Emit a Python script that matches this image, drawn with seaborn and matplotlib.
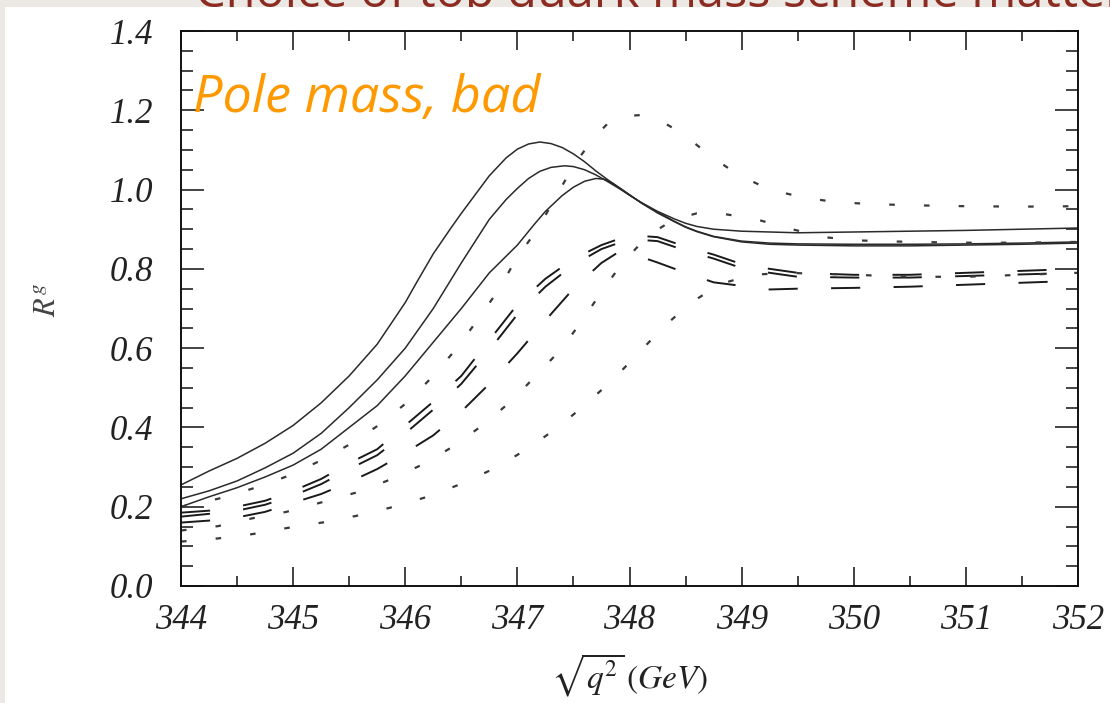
import matplotlib
matplotlib.use("Agg")
import matplotlib.pyplot as plt
import matplotlib.patches as mpatches
import seaborn as sns

# ---------------- data ----------------
x_ticks = [344, 345, 346, 347, 348, 349, 350, 351, 352]
y_ticks = [0.0, 0.2, 0.4, 0.6, 0.8, 1.0, 1.2, 1.4]

# solid curves
solid1_x = [344.0, 344.25, 344.5, 344.75, 345.0, 345.25, 345.5, 345.75, 346.0, 346.1, 346.25,
            346.4, 346.5, 346.6, 346.75, 346.9, 347.0, 347.1, 347.2, 347.3, 347.4, 347.5,
            347.6, 347.7, 347.8, 347.9, 348.0, 348.1, 348.25, 348.4, 348.5, 348.6, 348.75,
            349.0, 349.5, 350.0, 350.5, 351.0, 351.5, 352.0]
solid1_y = [0.255, 0.29, 0.322, 0.36, 0.405, 0.462, 0.53, 0.61, 0.715, 0.765, 0.838,
            0.9, 0.94, 0.978, 1.035, 1.08, 1.102, 1.115, 1.12, 1.116, 1.106, 1.09,
            1.07, 1.047, 1.026, 1.006, 0.986, 0.968, 0.945, 0.926, 0.915, 0.907, 0.90,
            0.895, 0.891, 0.893, 0.895, 0.897, 0.90, 0.903]

solid2_x = [344.0, 344.25, 344.5, 344.75, 345.0, 345.25, 345.5, 345.75, 346.0, 346.25, 346.5,
            346.75, 346.9, 347.0, 347.1, 347.2, 347.3, 347.42, 347.5, 347.6, 347.7, 347.8,
            347.9, 348.0, 348.1, 348.25, 348.4, 348.5, 348.6, 348.75, 349.0, 349.25, 349.5,
            350.0, 350.5, 351.0, 351.5, 352.0]
solid2_y = [0.22, 0.24, 0.265, 0.298, 0.335, 0.385, 0.45, 0.52, 0.60, 0.70, 0.815,
            0.925, 0.975, 1.003, 1.028, 1.046, 1.056, 1.06, 1.058, 1.05, 1.037, 1.021,
            1.004, 0.986, 0.968, 0.943, 0.92, 0.906, 0.895, 0.882, 0.87, 0.865, 0.863,
            0.862, 0.862, 0.863, 0.865, 0.868]

solid3_x = [344.0, 344.25, 344.5, 344.75, 345.0, 345.25, 345.5, 345.75, 346.0, 346.25, 346.5,
            346.75, 347.0, 347.15, 347.25, 347.4, 347.5, 347.6, 347.7, 347.78, 347.85, 347.95,
            348.1, 348.25, 348.4, 348.5, 348.6, 348.75, 349.0, 349.25, 349.5, 350.0, 350.5,
            351.0, 351.5, 352.0]
solid3_y = [0.20, 0.225, 0.248, 0.275, 0.305, 0.345, 0.40, 0.455, 0.53, 0.615, 0.70,
            0.79, 0.86, 0.912, 0.945, 0.985, 1.006, 1.021, 1.028, 1.026, 1.016, 0.997,
            0.967, 0.941, 0.919, 0.905, 0.894, 0.881, 0.868, 0.862, 0.86, 0.858, 0.858,
            0.86, 0.862, 0.865]

# dashed curves
dash_x = [344.0, 344.25, 344.5, 344.75, 345.0, 345.25, 345.5, 345.75, 346.0, 346.25, 346.5,
          346.75, 347.0, 347.25, 347.5, 347.75, 348.0, 348.25, 348.5, 348.75, 349.0, 349.25,
          349.5, 350.0, 350.5, 351.0, 351.5, 352.0]
dash1_y = [0.185, 0.19, 0.20, 0.215, 0.24, 0.27, 0.31, 0.345, 0.405, 0.465, 0.53,
           0.62, 0.71, 0.775, 0.825, 0.86, 0.885, 0.88, 0.856, 0.836, 0.812, 0.80,
           0.79, 0.785, 0.785, 0.79, 0.795, 0.80]
dash2_y = [0.175, 0.182, 0.19, 0.205, 0.228, 0.257, 0.295, 0.33, 0.385, 0.445, 0.51,
           0.595, 0.685, 0.755, 0.81, 0.85, 0.875, 0.87, 0.846, 0.826, 0.802, 0.79,
           0.78, 0.778, 0.778, 0.782, 0.786, 0.79]
dash3_x = [344.0, 344.25, 344.5, 344.75, 345.0, 345.25, 345.5, 345.75, 346.0, 346.25, 346.5,
           346.75, 347.0, 347.25, 347.5, 347.75, 347.9, 348.0, 348.25, 348.5, 348.75, 349.0,
           349.25, 349.5, 350.0, 350.5, 351.0, 351.5, 352.0]
dash3_y = [0.16, 0.165, 0.173, 0.187, 0.21, 0.232, 0.262, 0.295, 0.336, 0.38, 0.44,
           0.51, 0.587, 0.67, 0.75, 0.815, 0.842, 0.84, 0.816, 0.79, 0.766, 0.757,
           0.748, 0.75, 0.752, 0.755, 0.76, 0.765, 0.77]

# dotted curves
dot1_x = [344.0, 344.33, 344.63, 344.93, 345.22, 345.51, 345.78, 346.02, 346.25, 346.46, 346.65,
          346.83, 347.0, 347.18, 347.34, 347.5, 347.68, 347.8, 347.95, 348.1, 348.25, 348.48,
          348.72, 348.97, 349.25, 349.55, 349.85, 350.2, 350.6, 351.0, 351.5, 352.0]
dot1_y = [0.20, 0.22, 0.245, 0.275, 0.313, 0.358, 0.409, 0.464, 0.53, 0.60, 0.673,
          0.746, 0.83, 0.90, 0.98, 1.06, 1.13, 1.165, 1.185, 1.188, 1.178, 1.14,
          1.085, 1.037, 1.0, 0.98, 0.968, 0.963, 0.96, 0.958, 0.957, 0.958]

dot2_x = [344.0, 344.33, 344.64, 344.94, 345.28, 345.59, 345.88, 346.18, 346.45, 346.71, 346.96,
          347.18, 347.4, 347.59, 347.76, 347.94, 348.17, 348.4, 348.6, 348.81, 349.13, 349.45,
          349.74, 350.0, 350.5, 351.0, 351.5, 352.0]
dot2_y = [0.14, 0.151, 0.171, 0.187, 0.213, 0.238, 0.27, 0.31, 0.356, 0.41, 0.47,
          0.535, 0.60, 0.675, 0.746, 0.816, 0.885, 0.925, 0.94, 0.94, 0.925, 0.90,
          0.88, 0.872, 0.868, 0.866, 0.866, 0.868]

dot3_x = [344.0, 344.33, 344.64, 344.94, 345.28, 345.6, 345.9, 346.22, 346.52, 346.82, 347.1,
          347.36, 347.6, 347.85, 348.09, 348.29, 348.54, 348.81, 349.1, 349.4, 350.0, 350.5,
          351.0, 351.5, 352.0]
dot3_y = [0.112, 0.12, 0.131, 0.146, 0.161, 0.179, 0.20, 0.227, 0.26, 0.30, 0.348,
          0.40, 0.456, 0.52, 0.59, 0.65, 0.713, 0.762, 0.785, 0.79, 0.785, 0.78,
          0.78, 0.785, 0.79]

title_text = "Choice of top quark mass scheme matters"
note_text = "Pole mass, bad"
x_label = r"$\sqrt{q^2}\,(GeV)$"
y_label = r"$R^g$"

# ---------------- styling ----------------
sns.set_style("white")
plt.rcParams["font.family"] = ["DejaVu Sans"]
plt.rcParams["mathtext.fontset"] = "stix"
plt.rcParams["lines.scale_dashes"] = False

W, H = 1110.0, 703.0
fig = plt.figure(figsize=(W / 100, H / 100), dpi=100)
fig.patch.set_facecolor("#ECE9E4")

# slide background: title cut off at the top, white content area over it
bg = fig.add_axes([0, 0, 1, 1])
bg.set_zorder(0)
bg.set_xlim(0, W)
bg.set_ylim(H, 0)
bg.axis("off")
bg.add_patch(mpatches.Rectangle((0, 0), W, H, facecolor="#ECE9E4", edgecolor="none", zorder=0))
bg.text(195, 7, title_text, fontsize=35, color="#8B2B22", family="Open Sans",
        va="baseline", ha="left", zorder=1)
bg.add_patch(mpatches.Rectangle((5, 7), W - 5, H - 7, facecolor="white", edgecolor="none",
                                zorder=2))

ax = fig.add_axes([181 / W, (H - 586) / H, (1078 - 181) / W, (586 - 31) / H])
ax.set_zorder(1)
ax.set_facecolor("white")

solid_kw = dict(color="#2a2a2a", linewidth=1.1, estimator=None, sort=False, legend=False)
dash_kw = dict(color="#1a1a1a", linewidth=1.4, linestyle=(0, (21, 24)), estimator=None,
               sort=False, legend=False)
dot_kw = dict(color="#3a3a3a", linewidth=1.6, linestyle=(0, (4, 21)), estimator=None,
              sort=False, legend=False)

for xs, ys in [(solid1_x, solid1_y), (solid2_x, solid2_y), (solid3_x, solid3_y)]:
    sns.lineplot(x=xs, y=ys, ax=ax, **solid_kw)
for xs, ys in [(dash_x, dash1_y), (dash_x, dash2_y), (dash3_x, dash3_y)]:
    sns.lineplot(x=xs, y=ys, ax=ax, **dash_kw)
for xs, ys in [(dot1_x, dot1_y), (dot2_x, dot2_y), (dot3_x, dot3_y)]:
    sns.lineplot(x=xs, y=ys, ax=ax, **dot_kw)

ax.set_xlim(344, 352)
ax.set_ylim(0, 1.4)
ax.set_xticks(x_ticks)
ax.set_yticks(y_ticks)
ax.set_xticks([v + 0.5 for v in x_ticks[:-1]], minor=True)
ax.set_yticks([round(v + d, 2) for v in y_ticks[:-1] for d in (0.05, 0.1, 0.15)], minor=True)
ax.set_xticklabels([str(v) for v in x_ticks])
ax.set_yticklabels([f"{v:.1f}" for v in y_ticks])

for sp in ax.spines.values():
    sp.set_visible(True)
    sp.set_linewidth(1.4)
    sp.set_color("#111111")

ax.tick_params(which="both", direction="in", top=True, right=True, bottom=True, left=True,
               color="#111111", width=1.1)
ax.xaxis.set_tick_params(which="major", length=13.5, pad=13)
ax.xaxis.set_tick_params(which="minor", length=7)
ax.yaxis.set_tick_params(which="major", length=16.5, pad=20)
ax.yaxis.set_tick_params(which="minor", length=8.5)

for lab in ax.get_xticklabels() + ax.get_yticklabels():
    lab.set_family("Liberation Serif")
    lab.set_style("italic")
    lab.set_fontsize(25)
    lab.set_color("#222222")

ax.set_xlabel(x_label, fontsize=24, color="#222222", va="top")
ax.set_ylabel(y_label, fontsize=22, color="#444444")
ax.xaxis.set_label_coords(0.5, -0.118)
ax.yaxis.set_label_coords(-0.134, 0.515)

ax.text(12 / 897, (586 - 112) / 555, note_text, transform=ax.transAxes, fontsize=37.5,
        color="#FF9900", family="Open Sans", style="italic", va="baseline", ha="left",
        zorder=10)

fig.savefig("out.png", dpi=100, facecolor=fig.get_facecolor())
